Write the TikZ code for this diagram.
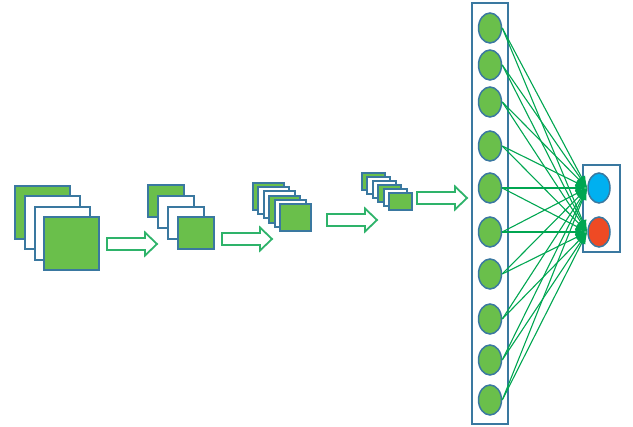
\documentclass[tikz,border=0pt]{standalone}
\usepackage{tikz}
\usetikzlibrary{shapes.geometric}
\usetikzlibrary{arrows, arrows.meta}
\definecolor{GREEN}{HTML}{6ABF4B}
\definecolor{EDGE}{HTML}{3A78A0}
\definecolor{LINK}{HTML}{00A651}
\definecolor{ARROW}{HTML}{2EB36A}
\definecolor{CYAN}{HTML}{00B0F0}
\definecolor{RED}{HTML}{EE4A24}

\begin{document}
\begin{tikzpicture}[x=1pt, y=-1pt,
    fmap/.style={draw=EDGE, line width=1.8pt},
    blockarrow/.style={draw=ARROW, fill=white, line width=1.8pt},
    neuron/.style={ellipse, draw=EDGE, fill=GREEN, line width=1.5pt, minimum width=23pt, minimum height=30pt, inner sep=0pt},
    link/.style={LINK, line width=1.1pt, -{Latex[length=12pt,width=8pt]}}]
    \useasboundingbox (0,0) rectangle (633,427);
    % feature maps
    \foreach \x/\y/\c in {15/186/GREEN,25/196/white,35/207/white,44/217/GREEN}
        \filldraw[fmap, fill=\c] (\x,\y) rectangle ++(55,53);
    \foreach \x/\y/\c in {148/185/GREEN,158/196/white,168/207/white,178/217/GREEN}
        \filldraw[fmap, fill=\c] (\x,\y) rectangle ++(36,32);
    \foreach \x/\y/\c in {253/183/GREEN,258/187/white,264/191/white,269/196/GREEN,275/200/white,280/204/GREEN}
        \filldraw[fmap, fill=\c] (\x,\y) rectangle ++(31,27);
    \foreach \x/\y/\c in {362/173/GREEN,367/177/white,373/181/white,378/185/GREEN,384/189/white,389/193/GREEN}
        \filldraw[fmap, fill=\c] (\x,\y) rectangle ++(23,17);
    %
    \foreach \x/\y in {107/244,222/239,327/220,417/198}
        \draw[blockarrow] (\x,\y) ++(0,-6) -- ++(38,0) -- ++(0,-5.5) -- ++(12,11.5)
            -- ++(-12,11.5) -- ++(0,-5.5) -- ++(-38,0) -- cycle;
    %
    \draw[EDGE, line width=1.6pt] (472,3) rectangle (508,424);
    \draw[EDGE, line width=1.6pt] (583,165) rectangle (620,252);
    \foreach \i/\y in {1/28,2/65,3/102,4/146,5/188,6/232,7/274,8/319,9/360,10/400}
        \node[neuron] (h\i) at (490,\y) {};
    \node[neuron, fill=CYAN, minimum width=22pt] (o1) at (599,188) {};
    \node[neuron, fill=RED, minimum width=22pt] (o2) at (599,232) {};
    %
    \foreach \i in {1,...,10}
        \foreach \o in {1,2}
            \draw[link] (h\i.east) -- (o\o.west);
\end{tikzpicture}
\end{document}
